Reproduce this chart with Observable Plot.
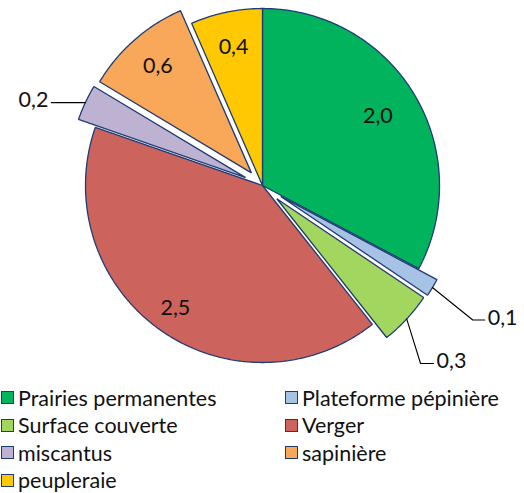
<!DOCTYPE html>
<html>
<head>
<meta charset="utf-8">
<script src="https://cdn.jsdelivr.net/npm/d3@7"></script>
<script src="https://cdn.jsdelivr.net/npm/@observablehq/plot@0.6"></script>
<style>
  body { margin: 0; background: #fff; font-family: Lato, "Open Sans", sans-serif; }
  #chart svg { display: block; overflow: visible; }
  #legend { display: grid; grid-template-columns: 282px 242px; margin-top: 27px; }
  .item { display: flex; align-items: center; height: 27.5px; font-size: 21.5px; color: #111; white-space: nowrap; }
  .sw { width: 11px; height: 11px; border: 1px solid #1F3B73; margin-right: 4px; flex: none; }
  .c0 { padding-left: 1px; }
  .c1 { padding-left: 3px; }
</style>
</head>
<body>
<div id="chart"></div>
<div id="legend"></div>
<script>
// ---- data ----
const names  = ["Prairies permanentes", "Plateforme pépinière", "Surface couverte", "Verger", "miscantus", "sapinière", "peupleraie"];
const values = [2.0, 0.1, 0.3, 2.5, 0.2, 0.6, 0.4];
const labels = ["2,0", "0,1", "0,3", "2,5", "0,2", "0,6", "0,4"];

// ---- styles / layout ----
const colors  = ["#00B35C", "#A6C2E4", "#A3D65F", "#CD635D", "#BEB2D3", "#F9A859", "#FFC800"];
const explode = [0, 0.12, 0.11, 0, 0.105, 0.095, 0];
const labelR  = [0.76, null, null, 0.85, null, 0.8, 0.8];
// outside labels: [slice index, elbow angle (deg), elbow radius, horizontal run (px), side]
const outside = [
  [1, 122.6, 1.41, 12, 1],
  [2, 138.4, 1.345, 13, 1],
  [4, null, null, 34, -1]
];
const R = 177, CX = 262, CY = 185, W = 524, H = 357;
const FS = 21.5;
const rad = d => d * Math.PI / 180;
const polar = (deg, r) => [Math.sin(rad(deg)) * r, Math.cos(rad(deg)) * r];

const total = d3.sum(values);
let acc = 0;
const slices = values.map((v, i) => {
  const a0 = acc / total * 360; acc += v;
  const a1 = acc / total * 360;
  const mid = (a0 + a1) / 2;
  const [ox, oy] = polar(mid, explode[i]);
  return {i, name: names[i], value: v, label: labels[i], color: colors[i], a0, a1, mid, ox, oy};
});

function slicePoints(s) {
  const pts = [{x: s.ox, y: s.oy}];
  const n = Math.max(2, Math.ceil((s.a1 - s.a0) / 0.5));
  for (let k = 0; k <= n; k++) {
    const a = s.a0 + (s.a1 - s.a0) * k / n;
    const [x, y] = polar(a, 1);
    pts.push({x: x + s.ox, y: y + s.oy});
  }
  return pts;
}

const insideLabels = slices.filter(s => labelR[s.i] != null).map(s => {
  const [x, y] = polar(s.mid, labelR[s.i]);
  return {x: x + s.ox, y: y + s.oy, text: s.label};
});

const leaders = [], outStart = [], outEnd = [];
outside.forEach(([idx, ea, er, run, side]) => {
  const s = slices[idx];
  const start = polar(s.mid, 1 + explode[idx]);
  const elbow = ea == null ? start : polar(ea, er);
  const end = [elbow[0] + side * run / R, elbow[1]];
  leaders.push([{x: start[0], y: start[1]}, {x: elbow[0], y: elbow[1]}, {x: end[0], y: end[1]}]);
  const lab = {x: end[0] + side * 3 / R, y: end[1] + 2 / R, text: s.label};
  (side > 0 ? outStart : outEnd).push(lab);
});

const marks = [];
slices.forEach(s => {
  marks.push(Plot.line(slicePoints(s), {
    x: "x", y: "y", curve: "linear-closed",
    fill: s.color, stroke: "#1F3B73", strokeWidth: 1.3, strokeLinejoin: "miter"
  }));
});
leaders.forEach(l => marks.push(Plot.line(l, {x: "x", y: "y", stroke: "#000", strokeWidth: 1.1})));
marks.push(Plot.text(insideLabels, {x: "x", y: "y", text: "text", fontSize: FS, fill: "#111"}));
marks.push(Plot.text(outStart, {x: "x", y: "y", text: "text", textAnchor: "start", fontSize: FS, fill: "#111"}));
marks.push(Plot.text(outEnd, {x: "x", y: "y", text: "text", textAnchor: "end", fontSize: FS, fill: "#111"}));

const chart = Plot.plot({
  width: W, height: H,
  margin: 0,
  style: {fontFamily: "Lato, 'Open Sans', sans-serif", background: "#fff"},
  x: {domain: [-CX / R, (W - CX) / R], axis: null},
  y: {domain: [-(H - CY) / R, CY / R], axis: null},
  marks
});
document.getElementById("chart").appendChild(chart);

// ---- legend ----
const legend = document.getElementById("legend");
names.forEach((name, k) => {
  const div = document.createElement("div");
  div.className = "item " + (k % 2 === 0 ? "c0" : "c1");
  const sw = document.createElement("span");
  sw.className = "sw";
  sw.style.background = colors[k];
  div.appendChild(sw);
  div.appendChild(document.createTextNode(name));
  legend.appendChild(div);
});
</script>
</body>
</html>
